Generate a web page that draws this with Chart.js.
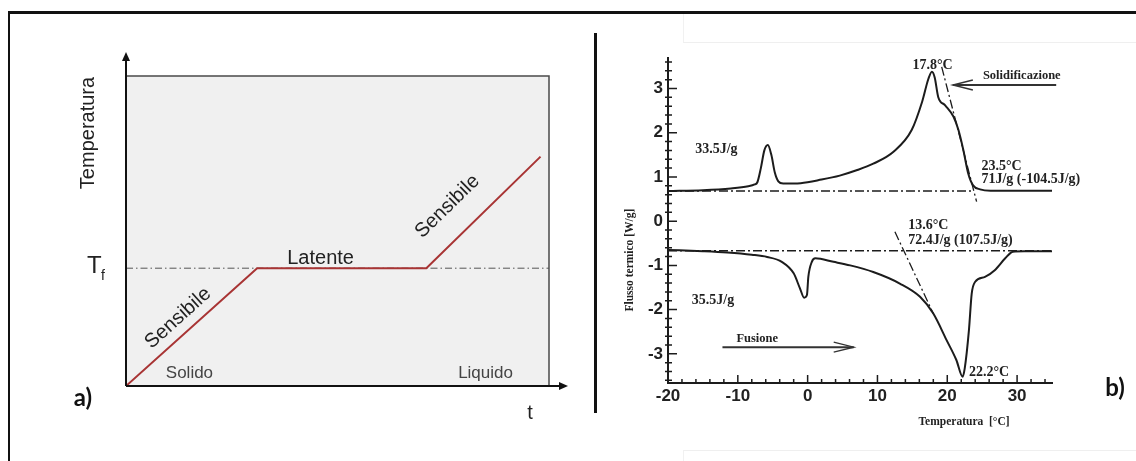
<!DOCTYPE html>
<html lang="it">
<head>
<meta charset="utf-8">
<title>Calore sensibile e latente - DSC</title>
<script src="https://cdn.jsdelivr.net/npm/chart.js@4.4.1/dist/chart.umd.min.js"></script>
<style>
  html, body { margin: 0; padding: 0; background: #fff; }
  body { width: 1136px; height: 461px; position: relative; overflow: hidden; }
  canvas { position: absolute; top: 0; }
  #phaseChart { left: 0; }
  #dscChart { left: 597px; }
  .frame { position: absolute; left: 8px; top: 11px; width: 1200px; height: 500px; border-left: 2px solid #111; border-top: 3px solid #111; }
  .divider { position: absolute; left: 594px; top: 33px; width: 3px; height: 380px; background: #111; }
  .scan { position: absolute; left: 683px; width: 460px; border-left: 1px solid #f1f1f1; }
  #scanTop { top: 14px; height: 28px; border-bottom: 1px solid #efefef; }
  #scanBottom { top: 450px; height: 20px; border-top: 1px solid #efefef; }
</style>
</head>
<body>
<div class="frame"></div>
<div class="scan" id="scanTop"></div>
<div class="scan" id="scanBottom"></div>
<div class="divider"></div>
<canvas id="phaseChart" width="595" height="461"></canvas>
<canvas id="dscChart" width="539" height="461"></canvas>
<script>
// a) heating at constant power: temperature vs time (arbitrary units)
const phaseTime = [0, 3.1, 7.1, 9.8];
const phaseTemp = [0, 3.8, 3.8, 7.4];
const meltTemp = 3.8;

// b) DSC thermogram, cooling run (solidification), W/g vs °C
const coolT = [-20, -15, -11, -8.5, -7.6, -7.2, -6.7, -6.2, -5.7, -5.2, -4.7, -4.2, -3.5, -1, 2, 4.6, 7, 9.4, 12.3, 14.9, 16.4, 17.3, 17.8, 18.2, 18.7, 19.7, 20.9, 21.6, 22.3, 23.0, 23.7, 24.7, 26.2, 35];
const coolFlux = [0.68, 0.70, 0.74, 0.79, 0.83, 0.88, 1.20, 1.60, 1.72, 1.50, 1.10, 0.90, 0.85, 0.86, 0.94, 1.03, 1.15, 1.30, 1.57, 2.06, 2.70, 3.22, 3.38, 3.25, 2.81, 2.62, 2.36, 2.06, 1.61, 1.08, 0.81, 0.72, 0.69, 0.69];
// heating run (melting)
const heatT = [-20, -15, -11.5, -8, -5.8, -3.7, -2.0, -1.1, -0.5, -0.1, 0.1, 0.6, 1.1, 3.7, 6.1, 9.4, 13.2, 16.1, 18.0, 19.9, 21.3, 22.2, 22.5, 23.1, 23.5, 24.0, 25.4, 26.8, 28.3, 29.4, 31, 35];
const heatFlux = [-0.65, -0.68, -0.71, -0.76, -0.81, -0.92, -1.18, -1.52, -1.73, -1.67, -1.26, -0.92, -0.84, -0.92, -1.0, -1.15, -1.41, -1.71, -2.09, -2.69, -3.14, -3.52, -3.33, -2.47, -1.64, -1.37, -1.26, -1.11, -0.84, -0.69, -0.68, -0.68];
// baselines and onset tangents
const coolBaseT = [-20, 23.7];
const coolBaseFlux = [0.68, 0.68];
const heatBaseT = [-20, 35];
const heatBaseFlux = [-0.67, -0.67];
const coolTanT = [19.2, 24.2];
const coolTanFlux = [3.49, 0.44];
const heatTanT = [12.5, 18.0];
const heatTanFlux = [-0.24, -2.09];

const ink = '#1c1c1c';
const dashDot = [9, 3, 2, 3];
const pts = (xs, ys) => xs.map((x, i) => ({ x, y: ys[i] }));

function text(ctx, str, x, y, font, color, align, baseline, angle) {
  ctx.save();
  ctx.translate(x, y);
  if (angle) ctx.rotate(angle);
  ctx.font = font;
  ctx.fillStyle = color;
  ctx.textAlign = align || 'left';
  ctx.textBaseline = baseline || 'middle';
  ctx.fillText(str, 0, 0);
  ctx.restore();
}

function solidHead(ctx, x, y, dx, dy) {
  // filled arrowhead pointing along (dx, dy)
  ctx.save();
  ctx.translate(x, y);
  ctx.rotate(Math.atan2(dy, dx));
  ctx.beginPath();
  ctx.moveTo(0, 0);
  ctx.lineTo(-9, -4);
  ctx.lineTo(-9, 4);
  ctx.closePath();
  ctx.fill();
  ctx.restore();
}

function openArrow(ctx, x0, x1, y) {
  const dir = Math.sign(x1 - x0);
  ctx.save();
  ctx.strokeStyle = '#333';
  ctx.lineWidth = 2;
  ctx.beginPath();
  ctx.moveTo(x0, y);
  ctx.lineTo(x1, y);
  ctx.stroke();
  ctx.lineWidth = 1.4;
  ctx.beginPath();
  ctx.moveTo(x1 - dir * 20, y - 5);
  ctx.lineTo(x1, y);
  ctx.lineTo(x1 - dir * 20, y + 5);
  ctx.stroke();
  ctx.restore();
}

// grey plot box, axes with arrows and the phase labels
const phaseDecor = {
  id: 'phaseDecor',
  beforeDatasetsDraw(chart) {
    const { ctx, chartArea: a } = chart;
    ctx.save();
    ctx.fillStyle = '#f0f0f0';
    ctx.fillRect(a.left, a.top, a.right - a.left, a.bottom - a.top);
    ctx.strokeStyle = '#4a4a4a';
    ctx.lineWidth = 1.5;
    ctx.beginPath();
    ctx.moveTo(a.left, a.top);
    ctx.lineTo(a.right, a.top);
    ctx.lineTo(a.right, a.bottom);
    ctx.stroke();
    ctx.restore();
  },
  afterDatasetsDraw(chart) {
    const { ctx, chartArea: a, scales: { x, y } } = chart;
    ctx.save();
    ctx.strokeStyle = '#111';
    ctx.fillStyle = '#111';
    ctx.lineWidth = 2;
    ctx.beginPath();
    ctx.moveTo(a.left, a.bottom);
    ctx.lineTo(a.left, a.top - 20);
    ctx.moveTo(a.left, a.bottom);
    ctx.lineTo(a.right + 12, a.bottom);
    ctx.stroke();
    solidHead(ctx, a.left, a.top - 15 - 9, 0, -1);
    solidHead(ctx, a.right + 19, a.bottom, 1, 0);
    ctx.restore();

    const sans = '"Liberation Sans", Arial, sans-serif';
    const tfPx = y.getPixelForValue(meltTemp);
    text(ctx, 'Temperatura', a.left - 38, a.top + 57, '20px ' + sans, '#222', 'center', 'middle', -Math.PI / 2);
    text(ctx, 'T', a.left - 39, tfPx + 5, '24px ' + sans, '#222', 'left', 'alphabetic');
    text(ctx, 'f', a.left - 25, tfPx + 12, '14px ' + sans, '#222', 'left', 'alphabetic');
    text(ctx, 'Latente', x.getPixelForValue(4.6), tfPx - 4, '20px ' + sans, '#222', 'center', 'alphabetic');

    // "Sensibile" runs along each heating ramp
    const ramps = [[0, 1, 1.23, 2.19], [2, 3, 7.6, 5.79]];
    ramps.forEach(([i, j, lx, ly]) => {
      const ang = Math.atan2(y.getPixelForValue(phaseTemp[j]) - y.getPixelForValue(phaseTemp[i]),
        x.getPixelForValue(phaseTime[j]) - x.getPixelForValue(phaseTime[i]));
      text(ctx, 'Sensibile', x.getPixelForValue(lx), y.getPixelForValue(ly), '20px ' + sans, '#222', 'center', 'middle', ang);
    });

    text(ctx, 'Solido', x.getPixelForValue(1.5), a.bottom - 13, '17px ' + sans, '#444', 'center', 'middle');
    text(ctx, 'Liquido', x.getPixelForValue(8.5), a.bottom - 13, '17px ' + sans, '#444', 'center', 'middle');
    text(ctx, 't', a.right - 19, a.bottom + 27, '20px ' + sans, '#222', 'center', 'middle');
    text(ctx, 'a)', 83, a.bottom + 12, 'bold 24px Lato, "Open Sans", sans-serif', '#111', 'center', 'middle');
  }
};

new Chart(document.getElementById('phaseChart'), {
  type: 'line',
  data: {
    datasets: [
      { data: pts(phaseTime, phaseTemp), borderColor: '#a83434', borderWidth: 2, tension: 0 },
      { data: pts([0, 10], [meltTemp, meltTemp]), borderColor: '#555', borderWidth: 1, borderDash: [7, 3, 1.5, 3] }
    ]
  },
  options: {
    responsive: false,
    animation: false,
    devicePixelRatio: 1,
    layout: { padding: { left: 126, right: 46, top: 76, bottom: 75 } },
    elements: { point: { radius: 0 } },
    plugins: { legend: { display: false }, tooltip: { enabled: false } },
    scales: {
      x: { type: 'linear', min: 0, max: 10, display: false },
      y: { type: 'linear', min: 0, max: 10, display: false }
    }
  },
  plugins: [phaseDecor]
});

// DSC annotations: text, temperature, flux, alignment
const dscNotes = [
  ['17.8°C', 17.9, 3.53, 'center'],
  ['33.5J/g', -16.1, 1.63],
  ['23.5°C', 24.9, 1.24],
  ['71J/g (-104.5J/g)', 24.9, 0.95],
  ['13.6°C', 14.4, -0.09],
  ['72.4J/g (107.5J/g)', 14.4, -0.43],
  ['35.5J/g', -16.6, -1.79],
  ['22.2°C', 23.1, -3.42]
];

const dscDecor = {
  id: 'dscDecor',
  afterDatasetsDraw(chart) {
    const { ctx, chartArea: a, scales: { x, y } } = chart;
    ctx.save();
    ctx.strokeStyle = ink;
    ctx.lineWidth = 1.5;
    ctx.beginPath();
    // inward ticks: every 2 °C on x, every 0.2 W/g on y
    for (let t = -20; t <= 34; t += 2) {
      const px = x.getPixelForValue(t);
      const len = t % 10 === 0 ? 8 : 4;
      ctx.moveTo(px, a.bottom);
      ctx.lineTo(px, a.bottom - len);
    }
    for (let k = -18; k <= 18; k++) {
      const py = y.getPixelForValue(k / 5);
      const major = k % 5 === 0;
      ctx.moveTo(a.left - (major ? 0 : 3), py);
      ctx.lineTo(a.left + (major ? 9 : 4), py);
    }
    ctx.stroke();
    ctx.restore();

    const serif = '"Liberation Serif", "Times New Roman", serif';
    dscNotes.forEach(([s, t, v, align]) => {
      text(ctx, s, x.getPixelForValue(t), y.getPixelForValue(v), 'bold 14px ' + serif, '#222', align || 'left', 'middle');
    });

    text(ctx, 'Solidificazione', x.getPixelForValue(25.1), y.getPixelForValue(3.28), 'bold 12.5px ' + serif, '#222', 'left', 'middle');
    openArrow(ctx, x.getPixelForValue(35.6), x.getPixelForValue(20.8), y.getPixelForValue(3.08));
    text(ctx, 'Fusione', x.getPixelForValue(-10.2), y.getPixelForValue(-2.67), 'bold 12.5px ' + serif, '#222', 'left', 'middle');
    openArrow(ctx, x.getPixelForValue(-12.2), x.getPixelForValue(6.6), y.getPixelForValue(-2.85));

    text(ctx, 'Temperatura  [°C]', x.getPixelForValue(22.4), a.bottom + 39, 'bold 11.5px ' + serif, '#222', 'center', 'middle');
    text(ctx, 'Flusso termico [W/g]', a.left - 38, y.getPixelForValue(-0.88), 'bold 11.5px ' + serif, '#222', 'center', 'middle', -Math.PI / 2);
    text(ctx, 'b)', a.right + 63, a.bottom + 5, 'bold 24px Lato, "Open Sans", sans-serif', '#111', 'center', 'middle');
  }
};

const tickFont = { family: '"Liberation Sans", Arial, sans-serif', size: 17, weight: 'bold' };

new Chart(document.getElementById('dscChart'), {
  type: 'line',
  data: {
    datasets: [
      { data: pts(coolT, coolFlux), borderColor: ink, borderWidth: 2, cubicInterpolationMode: 'monotone' },
      { data: pts(heatT, heatFlux), borderColor: ink, borderWidth: 2, cubicInterpolationMode: 'monotone' },
      { data: pts(coolBaseT, coolBaseFlux), borderColor: ink, borderWidth: 1.5, borderDash: dashDot },
      { data: pts(heatBaseT, heatBaseFlux), borderColor: ink, borderWidth: 1.5, borderDash: dashDot },
      { data: pts(coolTanT, coolTanFlux), borderColor: ink, borderWidth: 1.3, borderDash: dashDot },
      { data: pts(heatTanT, heatTanFlux), borderColor: ink, borderWidth: 1.3, borderDash: dashDot }
    ]
  },
  options: {
    responsive: false,
    animation: false,
    devicePixelRatio: 1,
    layout: { padding: { left: 0, right: 84, top: 58, bottom: 48 } },
    elements: { point: { radius: 0 } },
    plugins: { legend: { display: false }, tooltip: { enabled: false } },
    scales: {
      x: {
        type: 'linear', min: -20, max: 35,
        grid: { display: false, drawTicks: false },
        border: { display: true, color: ink, width: 2 },
        ticks: { stepSize: 10, includeBounds: false, autoSkip: false, maxRotation: 0, padding: 3, color: '#222', font: tickFont },
        afterFit(s) { s.height = 30; }
      },
      y: {
        type: 'linear', min: -3.66, max: 3.69,
        grid: { display: false, drawTicks: false },
        border: { display: true, color: ink, width: 2 },
        ticks: { stepSize: 1, includeBounds: false, autoSkip: false, padding: 5, color: '#222', font: tickFont },
        afterFit(s) { s.width = 71; }
      }
    }
  },
  plugins: [dscDecor]
});
</script>
</body>
</html>
